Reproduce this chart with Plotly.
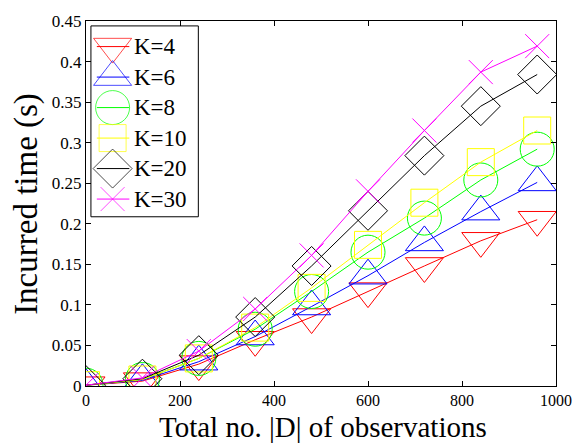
import plotly.graph_objects as go

# Number of observations |D|
observations = [0, 120, 240, 360, 480, 600, 720, 840, 960]

# Incurred time (s) for each K
time_k4 = [0.001, 0.006, 0.027, 0.057, 0.085, 0.117, 0.148, 0.179, 0.205]
time_k6 = [0.001, 0.007, 0.030, 0.061, 0.098, 0.136, 0.177, 0.215, 0.251]
time_k8 = [0.001, 0.008, 0.034, 0.070, 0.1165, 0.165, 0.207, 0.254, 0.292]
time_k10 = [0.001, 0.008, 0.034, 0.072, 0.121, 0.174, 0.226, 0.276, 0.315]
time_k20 = [0.001, 0.009, 0.038, 0.085, 0.148, 0.216, 0.284, 0.345, 0.384]
time_k30 = [0.001, 0.010, 0.043, 0.095, 0.161, 0.240, 0.315, 0.387, 0.419]

series_names = ["K=4", "K=6", "K=8", "K=10", "K=20", "K=30"]
series_values = [time_k4, time_k6, time_k8, time_k10, time_k20, time_k30]

x_ticks = [0, 200, 400, 600, 800, 1000]
y_ticks = [0, 0.05, 0.1, 0.15, 0.2, 0.25, 0.3, 0.35, 0.4, 0.45]
y_tick_text = ["0", "0.05", "0.1", "0.15", "0.2", "0.25", "0.3", "0.35", "0.4", "0.45"]

# Marker styles (symbol, size, colour) per series
styles = [
    ("triangle-down-open", 33, "#ff0000"),
    ("triangle-up-open", 33, "#0000ff"),
    ("circle-open", 34, "#00ff00"),
    ("square-open", 27, "#ffff00"),
    ("diamond-open", 30, "#000000"),
    ("x-thin-open", 24, "#ff00ff"),
]

FONT = "Liberation Serif, DejaVu Serif, serif"
W, H = 584, 443
ML, MR, MT, MB = 86, 21, 15, 57
PW, PH = W - ML - MR, H - MT - MB

fig = go.Figure()

for name, vals, (sym, size, col) in zip(series_names, series_values, styles):
    fig.add_trace(go.Scatter(
        x=observations, y=vals, name=name, mode="lines+markers",
        line=dict(color=col, width=1),
        marker=dict(symbol=sym, size=size, color=col, line=dict(color=col, width=1)),
        showlegend=False,
    ))

# Legend drawn on a pixel-scaled overlay axis so markers keep their full size
leg_x0, leg_x1, leg_y0, leg_y1 = 5, 114, 5, 199
row0, row_step = 26, 31
seg_a, seg_m, seg_b, text_x = 11, 27, 44, 47
for i, (name, (sym, size, col)) in enumerate(zip(series_names, styles)):
    ry = row0 + row_step * i
    fig.add_trace(go.Scatter(
        x=[seg_a, seg_m, seg_b], y=[ry, ry, ry], xaxis="x2", yaxis="y2",
        mode="lines+markers", line=dict(color=col, width=1),
        marker=dict(symbol=sym, size=[0, size, 0], color=col,
                    line=dict(color=col, width=1)),
        showlegend=False, hoverinfo="skip",
    ))
    fig.add_annotation(x=text_x, y=ry, xref="x2", yref="y2", text=name,
                       showarrow=False, xanchor="left", yanchor="middle",
                       font=dict(family=FONT, size=23, color="black"))

fig.add_shape(type="rect", xref="x2", yref="y2", x0=leg_x0, x1=leg_x1,
              y0=leg_y0, y1=leg_y1, line=dict(color="black", width=1),
              fillcolor="white", layer="below")

axis_common = dict(
    showline=True, linecolor="black", linewidth=1, mirror="ticks",
    ticks="inside", ticklen=5, tickwidth=1, tickcolor="black",
    showgrid=False, zeroline=False,
)

fig.update_layout(
    width=W, height=H,
    margin=dict(l=ML, r=MR, t=MT, b=MB),
    paper_bgcolor="white", plot_bgcolor="white",
    font=dict(family=FONT, color="black"),
    xaxis=dict(range=[0, 1000], tickvals=x_ticks,
               tickfont=dict(family=FONT, size=16, color="black"), **axis_common),
    yaxis=dict(range=[0, 0.45], tickvals=y_ticks, ticktext=y_tick_text,
               tickfont=dict(family=FONT, size=17, color="black"), **axis_common),
    xaxis2=dict(range=[0, PW], overlaying="x", visible=False, fixedrange=True),
    yaxis2=dict(range=[PH, 0], overlaying="y", visible=False, fixedrange=True),
    showlegend=False,
)

# Axis titles
fig.add_annotation(x=(26 - ML) / PW, y=(H - MB - 201) / PH, xref="paper", yref="paper",
                   text="Incurred time (s)", textangle=-90, showarrow=False,
                   xanchor="center", yanchor="middle",
                   font=dict(family=FONT, size=33, color="black"))
fig.add_annotation(x=(327 - ML) / PW, y=0, xref="paper", yref="paper",
                   yshift=-(H - MT - PH) - 1, borderpad=0,
                   text="Total no. |D| of observations",
                   showarrow=False, xanchor="center", yanchor="bottom",
                   font=dict(family=FONT, size=29, color="black"))

fig.write_html("out.html")
